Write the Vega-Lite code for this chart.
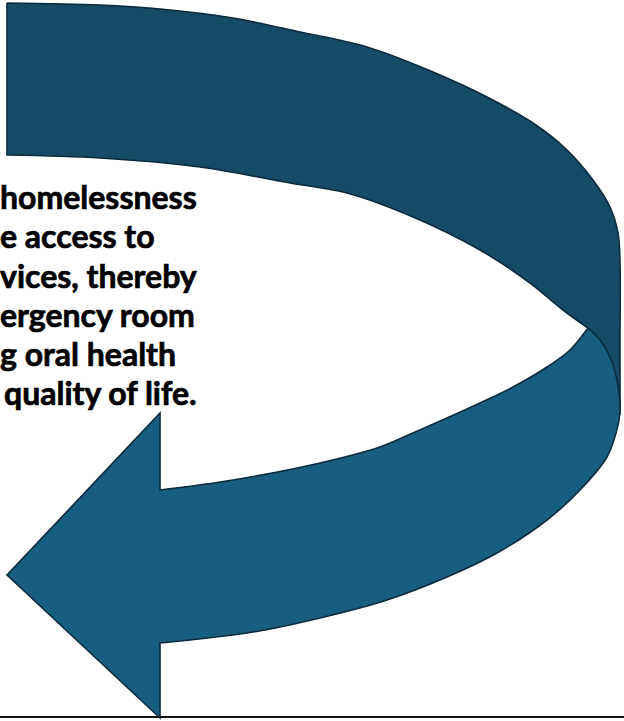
{
  "$schema": "https://vega.github.io/schema/vega-lite/v6.json",
  "width": 624,
  "height": 721,
  "padding": 0,
  "autosize": {"type": "none"},
  "background": "white",
  "config": {"view": {"stroke": null}},
  "datasets": {
    "shapes": [
      {"part": "upper", "i": 0, "x": 7, "y": 3},
      {"part": "upper", "i": 0.5, "x": 7, "y": 3},
      {"part": "upper", "i": 1, "x": 100, "y": 5},
      {"part": "upper", "i": 2, "x": 160, "y": 9},
      {"part": "upper", "i": 3, "x": 233, "y": 18},
      {"part": "upper", "i": 4, "x": 300, "y": 32},
      {"part": "upper", "i": 5, "x": 367, "y": 47},
      {"part": "upper", "i": 6, "x": 433, "y": 72},
      {"part": "upper", "i": 7, "x": 487, "y": 97},
      {"part": "upper", "i": 8, "x": 533, "y": 123},
      {"part": "upper", "i": 9, "x": 567, "y": 150},
      {"part": "upper", "i": 10, "x": 593, "y": 180},
      {"part": "upper", "i": 11, "x": 610, "y": 207},
      {"part": "upper", "i": 12, "x": 618, "y": 233},
      {"part": "upper", "i": 13, "x": 620, "y": 263},
      {"part": "upper", "i": 13.5, "x": 620, "y": 340},
      {"part": "upper", "i": 14, "x": 620, "y": 415},
      {"part": "upper", "i": 14.5, "x": 620, "y": 415},
      {"part": "upper", "i": 15, "x": 588, "y": 328},
      {"part": "upper", "i": 15.5, "x": 588, "y": 328},
      {"part": "upper", "i": 16, "x": 563, "y": 310},
      {"part": "upper", "i": 17, "x": 530, "y": 283},
      {"part": "upper", "i": 18, "x": 480, "y": 250},
      {"part": "upper", "i": 19, "x": 413, "y": 217},
      {"part": "upper", "i": 20, "x": 347, "y": 193},
      {"part": "upper", "i": 21, "x": 290, "y": 183},
      {"part": "upper", "i": 22, "x": 200, "y": 167},
      {"part": "upper", "i": 23, "x": 100, "y": 158},
      {"part": "upper", "i": 24, "x": 7, "y": 155},
      {"part": "upper", "i": 24.5, "x": 7, "y": 155},
      {"part": "upper", "i": 25, "x": 7, "y": 3},
      {"part": "upper", "i": 25.5, "x": 7, "y": 3},
      {"part": "lower", "i": 0, "x": 588, "y": 328},
      {"part": "lower", "i": 0.5, "x": 588, "y": 328},
      {"part": "lower", "i": 1, "x": 600, "y": 340},
      {"part": "lower", "i": 2, "x": 610, "y": 357},
      {"part": "lower", "i": 3, "x": 617, "y": 380},
      {"part": "lower", "i": 4, "x": 620, "y": 403},
      {"part": "lower", "i": 5, "x": 619, "y": 420},
      {"part": "lower", "i": 6, "x": 616, "y": 433},
      {"part": "lower", "i": 7, "x": 607, "y": 457},
      {"part": "lower", "i": 8, "x": 580, "y": 490},
      {"part": "lower", "i": 9, "x": 547, "y": 520},
      {"part": "lower", "i": 10, "x": 497, "y": 553},
      {"part": "lower", "i": 11, "x": 447, "y": 577},
      {"part": "lower", "i": 12, "x": 387, "y": 600},
      {"part": "lower", "i": 13, "x": 320, "y": 618},
      {"part": "lower", "i": 14, "x": 253, "y": 632},
      {"part": "lower", "i": 15, "x": 160, "y": 643},
      {"part": "lower", "i": 15.5, "x": 160, "y": 643},
      {"part": "lower", "i": 16, "x": 160, "y": 718},
      {"part": "lower", "i": 16.5, "x": 160, "y": 718},
      {"part": "lower", "i": 17, "x": 7, "y": 575},
      {"part": "lower", "i": 17.5, "x": 7, "y": 575},
      {"part": "lower", "i": 18, "x": 160, "y": 413},
      {"part": "lower", "i": 18.5, "x": 160, "y": 413},
      {"part": "lower", "i": 19, "x": 160, "y": 490},
      {"part": "lower", "i": 19.5, "x": 160, "y": 490},
      {"part": "lower", "i": 20, "x": 233, "y": 480},
      {"part": "lower", "i": 21, "x": 320, "y": 463},
      {"part": "lower", "i": 22, "x": 380, "y": 447},
      {"part": "lower", "i": 23, "x": 413, "y": 433},
      {"part": "lower", "i": 24, "x": 447, "y": 418},
      {"part": "lower", "i": 25, "x": 480, "y": 403},
      {"part": "lower", "i": 26, "x": 513, "y": 387},
      {"part": "lower", "i": 27, "x": 547, "y": 367},
      {"part": "lower", "i": 28, "x": 570, "y": 350},
      {"part": "lower", "i": 29, "x": 588, "y": 328},
      {"part": "lower", "i": 29.5, "x": 588, "y": 328}
    ],
    "lines": [
      {"text": "homelessness", "x": 0, "y": 209},
      {"text": "e access to", "x": 0, "y": 248},
      {"text": "vices, thereby", "x": 0, "y": 288},
      {"text": "ergency room", "x": 0, "y": 327},
      {"text": "g oral health", "x": 0, "y": 366},
      {"text": "quality of life.", "x": 4, "y": 405}
    ]
  },
  "layer": [
    {
      "data": {"name": "shapes"},
      "transform": [{"filter": "datum.part === 'upper'"}],
      "mark": {"type": "line", "fill": "#154b66", "stroke": "#0b2a3d", "strokeWidth": 1.6, "strokeJoin": "miter", "interpolate": "catmull-rom"},
      "encoding": {
        "x": {"field": "x", "type": "quantitative", "scale": {"domain": [0, 624], "nice": false, "zero": false}, "axis": null},
        "y": {"field": "y", "type": "quantitative", "scale": {"domain": [0, 721], "nice": false, "zero": false, "reverse": true}, "axis": null},
        "order": {"field": "i", "type": "quantitative"}
      }
    },
    {
      "data": {"name": "shapes"},
      "transform": [{"filter": "datum.part === 'lower'"}],
      "mark": {"type": "line", "fill": "#185e80", "stroke": "#0b2a3d", "strokeWidth": 1.6, "strokeJoin": "miter", "interpolate": "catmull-rom"},
      "encoding": {
        "x": {"field": "x", "type": "quantitative"},
        "y": {"field": "y", "type": "quantitative"},
        "order": {"field": "i", "type": "quantitative"}
      }
    },
    {
      "data": {"name": "lines"},
      "mark": {"type": "text", "align": "left", "baseline": "alphabetic", "font": "Lato", "fontWeight": "bold", "fontSize": 32, "fill": "#000000", "stroke": "#000000", "strokeWidth": 0.7},
      "encoding": {
        "x": {"field": "x", "type": "quantitative"},
        "y": {"field": "y", "type": "quantitative"},
        "text": {"field": "text"}
      }
    },
    {
      "data": {"values": [{"x": 0, "x2": 624, "y": 717}]},
      "mark": {"type": "rule", "color": "#111111", "strokeWidth": 2},
      "encoding": {
        "x": {"field": "x", "type": "quantitative"},
        "x2": {"field": "x2"},
        "y": {"field": "y", "type": "quantitative"}
      }
    }
  ]
}
